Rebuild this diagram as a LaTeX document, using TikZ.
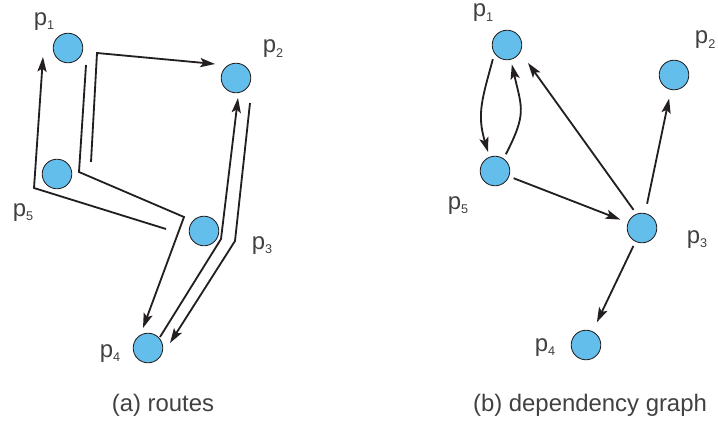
\documentclass[tikz,border=0pt]{standalone}
\usepackage{fontspec}
\setmainfont{Liberation Sans}
\usetikzlibrary{arrows.meta}
\definecolor{nodeblue}{RGB}{100,190,236}
\definecolor{inkgray}{RGB}{35,31,32}
\definecolor{textgray}{RGB}{65,64,66}
\newcommand{\pname}[1]{p\raisebox{-3.5pt}{\fontsize{9}{9}\selectfont #1}}

\begin{document}
\begin{tikzpicture}[
        every node/.style={font=\fontsize{17}{20}\selectfont, text=textgray},
        site/.style={circle, draw=inkgray, fill=nodeblue, line width=0.6pt, minimum size=0.74cm, inner sep=0pt, outer sep=0.13cm},
        route/.style={line width=1.3pt, draw=inkgray, -{Stealth[length=0.37cm,width=0.23cm,inset=0.08cm]}},
        dep/.style={route}
    ]
    \useasboundingbox (0,0) rectangle (17.95,10.525);
    % (a) routes
    \node[site] (p1) at (1.70,9.325) {};
    \node[site] (p2) at (5.90,8.575) {};
    \node[site] (p3) at (5.10,4.75) {};
    \node[site] (p4) at (3.70,1.825) {};
    \node[site] (p5) at (1.425,6.175) {};
    \node[anchor=base] (l1) at (1.10,9.90) {\pname{1}};
    \node[anchor=base] (l2) at (6.825,9.20) {\pname{2}};
    \node[anchor=base] (l3) at (6.55,4.30) {\pname{3}};
    \node[anchor=base] (l4) at (2.75,1.60) {\pname{4}};
    \node[anchor=base] (l5) at (0.575,5.125) {\pname{5}};
    \coordinate (r1a) at (4.15,4.80);
    \coordinate (r1b) at (0.85,5.825);
    \coordinate (r1c) at (1.075,9.10);
    \coordinate (r2a) at (2.275,6.475);
    \coordinate (r2b) at (2.425,9.20);
    \coordinate (r2c) at (5.375,8.925);
    \coordinate (r3a) at (2.15,8.90);
    \coordinate (r3b) at (1.975,6.225);
    \coordinate (r3c) at (4.60,5.10);
    \coordinate (r3d) at (3.575,2.325);
    \coordinate (r4a) at (4.00,2.10);
    \coordinate (r4b) at (5.525,4.55);
    \coordinate (r4c) at (5.95,8.075);
    \coordinate (r5a) at (6.25,7.95);
    \coordinate (r5b) at (5.875,4.50);
    \coordinate (r5c) at (4.25,1.95);
    \draw[route] (r1a) -- (r1b) -- (r1c);
    \draw[route] (r2a) -- (r2b) -- (r2c);
    \draw[route] (r3a) -- (r3b) -- (r3c) -- (r3d);
    \draw[route] (r4a) -- (r4b) -- (r4c);
    \draw[route] (r5a) -- (r5b) -- (r5c);
    \node[anchor=base] (capa) at (4.075,0.25) {(a) routes};
    % (b) dependency graph
    \node[site] (q1) at (12.675,9.40) {};
    \node[site] (q2) at (16.85,8.65) {};
    \node[site] (q3) at (16.05,4.825) {};
    \node[site] (q4) at (14.65,1.90) {};
    \node[site] (q5) at (12.375,6.25) {};
    \node[anchor=base] (m1) at (12.075,10.10) {\pname{1}};
    \node[anchor=base west] (m2) at (17.25,9.425) {\pname{2}};
    \node[anchor=base] (m3) at (17.425,4.45) {\pname{3}};
    \node[anchor=base] (m4) at (13.625,1.75) {\pname{4}};
    \node[anchor=base] (m5) at (11.45,5.30) {\pname{5}};
    \draw[dep] (q1.225) to[out=255,in=107,looseness=1.1] (q5.110);
    \draw[dep] (q5.57) to[out=63,in=283,looseness=1.3] (q1.284);
    \draw[dep, shorten >=0.2cm] (q3.115) -- (q1.-35);
    \draw[dep, shorten <=0.12cm, shorten >=0.1cm] (q3) -- (q2);
    \draw[dep, shorten >=0.08cm] (q5) -- (q3);
    \draw[dep, shorten >=0.13cm] (q3) -- (q4);
    \node[anchor=base] (capb) at (14.75,0.25) {(b) dependency graph};
\end{tikzpicture}
\end{document}
